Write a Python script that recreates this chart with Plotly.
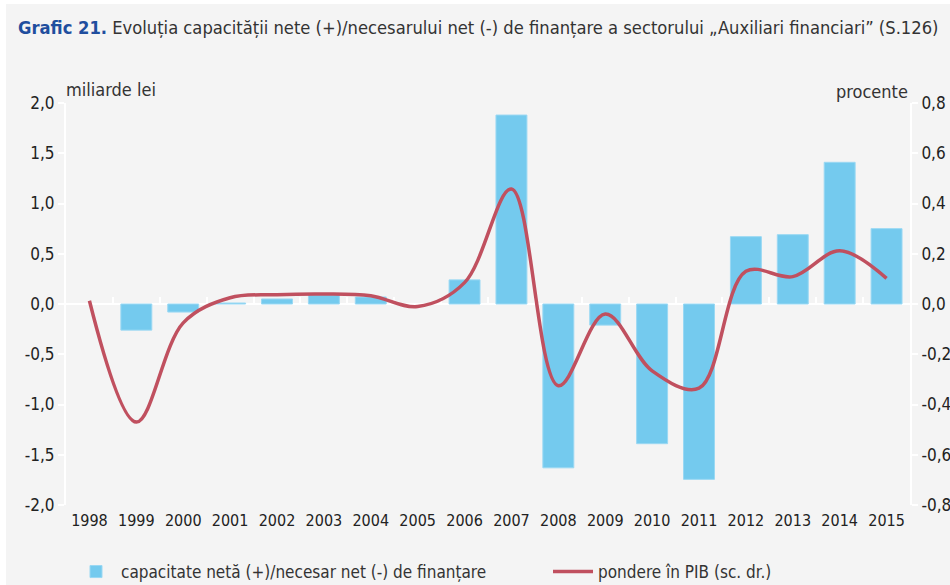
import plotly.graph_objects as go

years = ["1998", "1999", "2000", "2001", "2002", "2003", "2004", "2005", "2006",
         "2007", "2008", "2009", "2010", "2011", "2012", "2013", "2014", "2015"]
net_capacity = [None, -0.26, -0.08, 0.01, 0.05, 0.09, 0.07, None, 0.24,
                1.88, -1.63, -0.21, -1.39, -1.745, 0.67, 0.69, 1.41, 0.75]
share_gdp = [0.013, -0.47, -0.075, 0.025, 0.037, 0.04, 0.033, -0.01, 0.085,
             0.458, -0.325, -0.04, -0.266, -0.335, 0.13, 0.109, 0.212, 0.102]

left_ticks = [-2.0, -1.5, -1.0, -0.5, 0.0, 0.5, 1.0, 1.5, 2.0]
left_labels = ["-2,0", "-1,5", "-1,0", "-0,5", "0,0", "0,5", "1,0", "1,5", "2,0"]
right_ticks = [-0.8, -0.6, -0.4, -0.2, 0.0, 0.2, 0.4, 0.6, 0.8]
right_labels = ["-0,8", "-0,6", "-0,4", "-0,2", "0,0", "0,2", "0,4", "0,6", "0,8"]

bar_name = "capacitate netă (+)/necesar net (-) de finanțare"
line_name = "pondere în PIB (sc. dr.)"
title_text = ("<b><span style='color:#1f4e9e'>Grafic 21.</span></b> Evoluția capacității nete "
              "(+)/necesarului net (-) de finanțare a sectorului „Auxiliari financiari” (S.126)")

FONT = "Liberation Sans Narrow, Arial Narrow, DejaVu Sans Condensed, sans-serif"
BG = "#f4f4f4"

fig = go.Figure()
fig.add_trace(go.Bar(
    x=years, y=net_capacity, name=bar_name, width=0.66,
    marker=dict(color="#74caee", line=dict(color="#9ad8f3", width=1)),
    xaxis="x", yaxis="y", legend="legend",
))
fig.add_trace(go.Scatter(
    x=years, y=share_gdp, name=line_name, mode="lines",
    line=dict(color="#c0505f", width=3.5, shape="spline", smoothing=1.0),
    xaxis="x2", yaxis="y2", legend="legend2",
))

# grey panel with thin white border at top/left, as in the reference
fig.add_shape(type="rect", xref="paper", yref="paper",
              x0=(6 - 66) / 844, x1=(960 - 66) / 844,
              y0=(505 - 600) / 402, y1=(505 - 4) / 402,
              fillcolor=BG, line=dict(width=0), layer="below")

legend_common = dict(orientation="h", xref="container", yref="container",
                     xanchor="left", y=(585 - 572) / 585, yanchor="middle",
                     bgcolor="rgba(0,0,0,0)", itemwidth=40,
                     font=dict(family=FONT, size=17, color="#333333"))

fig.update_layout(
    width=950, height=585,
    margin=dict(l=66, r=40, t=103, b=80, autoexpand=False),
    paper_bgcolor="white", plot_bgcolor=BG,
    font=dict(family=FONT, size=16, color="#222222"),
    title=dict(text=title_text, xref="container", yref="container",
               x=18 / 950, xanchor="left", y=1 - 28 / 585, yanchor="middle",
               font=dict(family=FONT, size=18.2, color="#333333")),
    showlegend=True,
    legend=dict(x=71 / 950, **legend_common),
    legend2=dict(x=548 / 950, **legend_common),
    xaxis=dict(type="category", categoryorder="array", categoryarray=years,
               showline=False, ticks="", showgrid=False, zeroline=False,
               tickfont=dict(size=16, color="#222222"), ticklabelstandoff=4,
               range=[-0.5, 17.5], automargin=False, layer="below traces"),
    xaxis2=dict(type="category", categoryorder="array", categoryarray=years,
                overlaying="x", anchor="free", position=0.5, side="bottom",
                matches="x", showticklabels=False, showgrid=False, zeroline=False,
                showline=True, linecolor="white", linewidth=2,
                ticks="inside", tickson="boundaries", ticklen=6, tickwidth=2,
                tickcolor="white", automargin=False, layer="below traces"),
    yaxis=dict(range=[-2, 2], tickmode="array", tickvals=left_ticks, ticktext=left_labels,
               showgrid=False, zeroline=True, zerolinecolor="white", zerolinewidth=2,
               showline=True, linecolor="white", linewidth=2,
               ticks="outside", ticklen=6, tickwidth=2, tickcolor="white",
               tickfont=dict(size=17, color="#222222"), automargin=False,
               layer="below traces"),
    yaxis2=dict(range=[-0.8, 0.8], tickmode="array", tickvals=right_ticks, ticktext=right_labels,
                overlaying="y", side="right", anchor="x2",
                showgrid=False, zeroline=False,
                showline=True, linecolor="white", linewidth=2,
                ticks="outside", ticklen=6, tickwidth=2, tickcolor="white",
                tickfont=dict(size=17, color="#222222"), automargin=False,
                layer="below traces"),
    annotations=[
        dict(text="miliarde lei", xref="paper", yref="paper",
             x=-2 / 844, y=(505 - 89) / 402, xanchor="left", yanchor="middle",
             showarrow=False, font=dict(family=FONT, size=18, color="#333333")),
        dict(text="procente", xref="paper", yref="paper",
             x=(910 - 66) / 844, y=(505 - 92) / 402, xanchor="right", yanchor="middle",
             showarrow=False, font=dict(family=FONT, size=18, color="#333333")),
    ],
)

fig.write_html("out.html", config={"displayModeBar": False},
               post_script="document.body.style.margin='0px';")
